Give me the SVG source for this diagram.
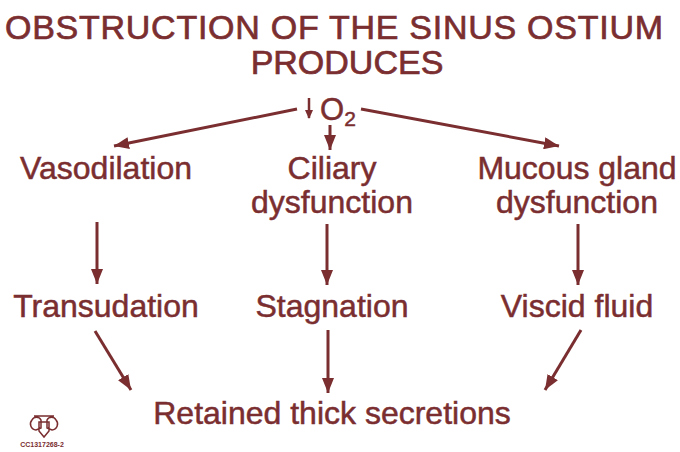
<svg xmlns="http://www.w3.org/2000/svg" width="680" height="452" viewBox="0 0 680 452">
<defs>
<marker id="ah" markerUnits="userSpaceOnUse" markerWidth="16" markerHeight="12" refX="15" refY="6" orient="auto"><path d="M0 0L15 6L0 12Z" fill="#7a2e30"/></marker>
</defs>
<style>
text{font-family:"Liberation Sans",Arial,sans-serif;fill:#7a2e30;stroke:#7a2e30;stroke-width:.5;font-size:32px;text-anchor:middle}
.t{font-size:34px;stroke-width:.7}
.c line{stroke:#7a2e30;stroke-width:3;marker-end:url(#ah)}
</style>
<rect width="680" height="452" fill="#fff"/>
<g id="title"><text class="t" x="334" y="39" textLength="658" lengthAdjust="spacing">OBSTRUCTION OF THE SINUS OSTIUM</text><text class="t" x="347" y="74">PRODUCES</text></g>
<g id="o2"><text x="332" y="120" style="font-size:31px">O</text><text x="350" y="126" style="font-size:21px">2</text><path d="M309 98V118" stroke="#7a2e30" stroke-width="2.5"/><path d="M305 110H313L309 119Z" fill="#7a2e30"/></g>
<g class="c" id="connectors">
<line x1="297" y1="109" x2="114" y2="146"/>
<line x1="330" y1="125" x2="330" y2="150"/>
<line x1="361" y1="109" x2="559" y2="146"/>
<line x1="97" y1="222" x2="97" y2="284"/>
<line x1="327" y1="224" x2="327" y2="285"/>
<line x1="578" y1="224" x2="578" y2="285"/>
<line x1="95" y1="331" x2="131" y2="390"/>
<line x1="328" y1="330" x2="328" y2="393"/>
<line x1="581" y1="330" x2="545" y2="390"/>
</g>
<g id="vasodilation"><text x="106" y="179">Vasodilation</text></g>
<g id="ciliary"><text x="332" y="179">Ciliary</text><text x="332" y="213">dysfunction</text></g>
<g id="mucous"><text x="577" y="179">Mucous gland</text><text x="577" y="213">dysfunction</text></g>
<g id="transudation"><text x="106" y="317">Transudation</text></g>
<g id="stagnation"><text x="332" y="317">Stagnation</text></g>
<g id="viscid"><text x="577" y="317">Viscid fluid</text></g>
<g id="retained"><text x="332" y="424">Retained thick secretions</text></g>
<g id="logo" fill="none" stroke="#7a2e30" stroke-width="1.5"><path d="M34 416h20M32 420a5 5 0 0 1 9 0v8l-5 2a6 6 0 0 1-4-10zM56 420a5 5 0 0 0-9 0v8l5 2a6 6 0 0 0 4-10zM39 422h10v9l-5 6-5-6z"/><text x="42" y="447" style="font-size:7px;stroke:none;font-weight:bold">CC1317268-2</text></g>
</svg>
